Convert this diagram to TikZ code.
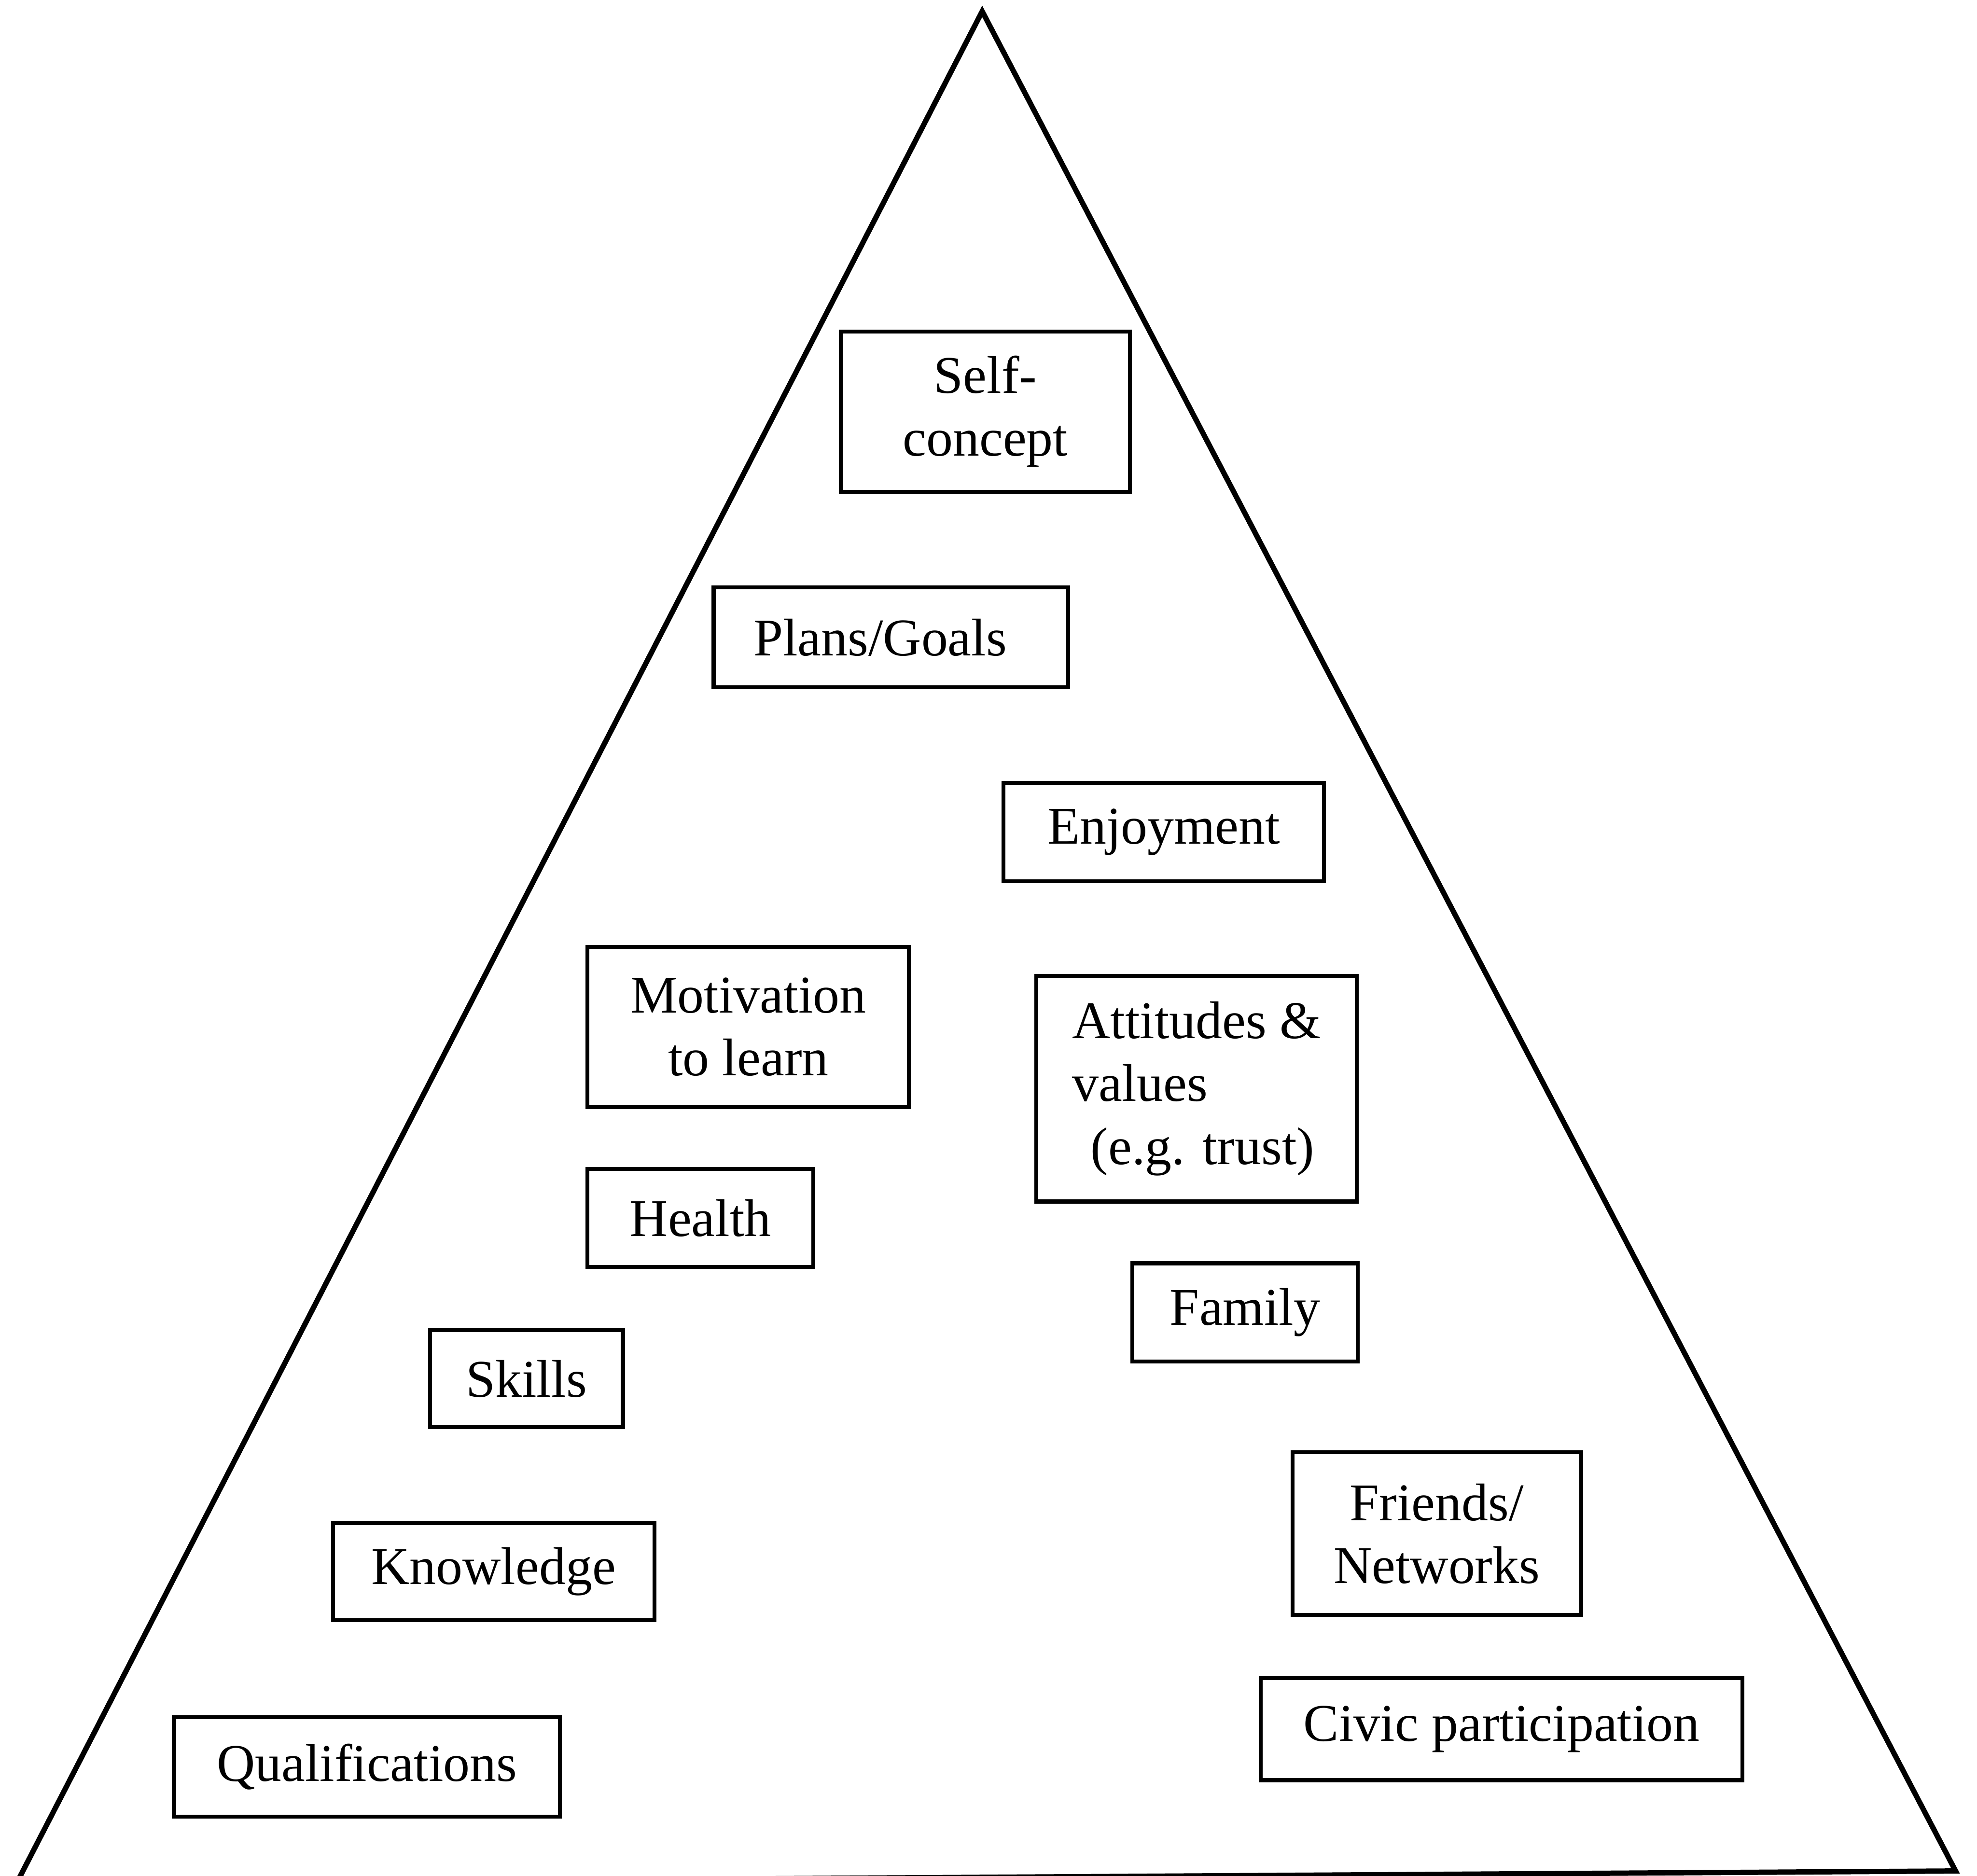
\documentclass[tikz,border=0pt]{standalone}
\usepackage{fontspec}
\setmainfont{Liberation Serif}

\newdimen\px \px=0.3176mm
\tikzstyle{factor} = [rectangle, draw=black, line width=2.8pt, inner sep=0pt, align=center, text centered, font=\fontsize{38}{45}\selectfont]
\tikzstyle{edge} = [line width=3.8pt, line join=miter]

\begin{document}
\begin{tikzpicture}[x=\px, y=-\px]
\useasboundingbox (0,0) rectangle (1568,1488);
% the pyramid
\coordinate (apex) at (779,9);
\coordinate (bl) at (13,1494);
\coordinate (br) at (1551,1484);
\draw [edge] (bl) -- (apex) -- (br) -- cycle;

% top of the pyramid
\node (self) [factor, minimum width=229\px, minimum height=127\px] at (781.5,326.5) {Self-\\concept};
\node (plans) [factor, minimum width=281\px, minimum height=79\px] at (706.5,505.5) {Plans/Goals\hspace{0.4em}};
\node (enjoy) [factor, minimum width=254\px, minimum height=78\px] at (923,660) {Enjoyment};
\node (motiv) [factor, minimum width=255\px, minimum height=127\px] at (593.5,814.5) {Motivation\\to learn};
\node (attit) [factor, align=left, minimum width=254\px, minimum height=179\px] at (949,863.5) {Attitudes \&\\values\\\hspace{0.35em}(e.g. trust)};
\node (health) [factor, minimum width=179\px, minimum height=78\px] at (555.5,966) {Health};
\node (family) [factor, minimum width=179\px, minimum height=78\px] at (987.5,1041) {Family};
% bottom of the pyramid
\node (skills) [factor, minimum width=153\px, minimum height=77\px] at (417.5,1093.5) {Skills};
\node (friends) [factor, minimum width=229\px, minimum height=129\px] at (1139.5,1216.5) {Friends/\\Networks};
\node (knowl) [factor, minimum width=255\px, minimum height=77\px] at (391.5,1246.5) {Knowledge};
\node (civic) [factor, minimum width=382\px, minimum height=81\px] at (1191,1371.5) {Civic participation};
\node (qualif) [factor, minimum width=306\px, minimum height=79\px] at (291,1401.5) {Qualifications};
\end{tikzpicture}
\end{document}
